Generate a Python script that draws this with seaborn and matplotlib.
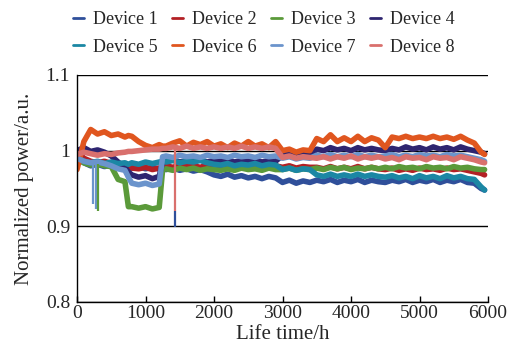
import matplotlib
matplotlib.use("Agg")
import matplotlib.pyplot as plt
from matplotlib.lines import Line2D
from matplotlib.ticker import FuncFormatter
import pandas as pd
import seaborn as sns

devices = ["Device 1", "Device 2", "Device 3", "Device 4",
           "Device 5", "Device 6", "Device 7", "Device 8"]
colors = ["#2f4f9a", "#b32025", "#5b9a3a", "#2e2570",
          "#1b87a4", "#e0561f", "#6b94cc", "#d9706d"]

hours = [0, 100, 200, 300, 400, 500, 600, 700,
         750, 800, 900, 1000, 1100, 1200, 1250,
         1300, 1400, 1500, 1600, 1700, 1800, 1900, 2000,
         2100, 2200, 2300, 2400, 2500, 2600, 2700, 2800, 2900,
         3000, 3100, 3200, 3300, 3400,
         3500, 3600, 3700, 3800, 3900, 4000, 4100, 4200, 4300, 4400,
         4500, 4600, 4700, 4800, 4900, 5000, 5100, 5200, 5300, 5400, 5500, 5600, 5700, 5800,
         5900, 5950]

device_1 = [0.990, 0.984, 0.980, 0.982, 0.979, 0.981, 0.978, 0.980,
            0.979, 0.977, 0.979, 0.976, 0.978, 0.976, 0.977,
            0.975, 0.977, 0.974, 0.976, 0.973, 0.975, 0.972, 0.968,
            0.966, 0.969, 0.965, 0.967, 0.964, 0.966, 0.963, 0.966, 0.964,
            0.958, 0.961, 0.957, 0.960, 0.958,
            0.961, 0.959, 0.962, 0.958, 0.961, 0.959, 0.962, 0.958, 0.961, 0.959,
            0.958, 0.961, 0.959, 0.962, 0.958, 0.961, 0.959, 0.962, 0.958, 0.961, 0.959, 0.962, 0.958, 0.957,
            0.950, 0.948]
device_2 = [1.000, 0.990, 0.986, 0.984, 0.986, 0.983, 0.982, 0.980,
            0.979, 0.977, 0.976, 0.978, 0.975, 0.977, 0.978,
            0.980, 0.978, 0.981, 0.979, 0.980, 0.978, 0.981, 0.979,
            0.980, 0.978, 0.981, 0.979, 0.980, 0.978, 0.981, 0.979, 0.980,
            0.978, 0.980, 0.977, 0.979, 0.978,
            0.978, 0.976, 0.979, 0.976, 0.978, 0.976, 0.979, 0.976, 0.978, 0.976,
            0.975, 0.977, 0.974, 0.976, 0.974, 0.977, 0.975, 0.976, 0.974, 0.977, 0.975, 0.976, 0.974, 0.972,
            0.970, 0.968]
device_3 = [0.990, 0.984, 0.981, 0.983, 0.980, 0.979, 0.962, 0.959,
            0.926, 0.926, 0.924, 0.926, 0.923, 0.925, 0.975,
            0.976, 0.974, 0.977, 0.975, 0.977, 0.974, 0.976, 0.975,
            0.974, 0.976, 0.974, 0.977, 0.975, 0.976, 0.974, 0.977, 0.975,
            0.975, 0.977, 0.974, 0.976, 0.975,
            0.977, 0.975, 0.978, 0.976, 0.978, 0.975, 0.977, 0.976, 0.978, 0.976,
            0.978, 0.976, 0.979, 0.977, 0.978, 0.976, 0.979, 0.977, 0.978, 0.976, 0.979, 0.977, 0.978, 0.976,
            0.975, 0.975]
device_4 = [1.000, 1.004, 0.999, 1.001, 0.998, 0.993, 0.985, 0.978,
            0.972, 0.968, 0.965, 0.967, 0.963, 0.966, 0.985,
            0.986, 0.988, 0.985, 0.987, 0.986, 0.988, 0.985, 0.987,
            0.986, 0.988, 0.985, 0.987, 0.986, 0.988, 0.985, 0.987, 0.986,
            0.994, 0.996, 0.993, 0.995, 0.994,
            1.002, 1.000, 1.004, 1.001, 1.003, 1.000, 1.004, 1.001, 1.003, 1.001,
            1.000, 1.003, 1.001, 1.005, 1.002, 1.004, 1.001, 1.005, 1.002, 1.004, 1.001, 1.005, 1.002, 1.000,
            0.998, 0.996]
device_5 = [0.992, 0.986, 0.984, 0.986, 0.983, 0.985, 0.983, 0.984,
            0.982, 0.984, 0.982, 0.985, 0.983, 0.985, 0.986,
            0.985, 0.987, 0.984, 0.986, 0.985, 0.987, 0.984, 0.982,
            0.981, 0.983, 0.980, 0.982, 0.981, 0.983, 0.980, 0.982, 0.981,
            0.975, 0.977, 0.974, 0.976, 0.975,
            0.968, 0.966, 0.969, 0.966, 0.968, 0.966, 0.969, 0.966, 0.968, 0.966,
            0.965, 0.967, 0.964, 0.966, 0.963, 0.967, 0.964, 0.966, 0.963, 0.967, 0.964, 0.966, 0.963, 0.962,
            0.952, 0.948]
device_6 = [0.975, 1.012, 1.028, 1.022, 1.025, 1.020, 1.022, 1.018,
            1.020, 1.019, 1.012, 1.007, 1.004, 1.008, 1.006,
            1.006, 1.010, 1.013, 1.006, 1.011, 1.008, 1.012, 1.006,
            1.009, 1.004, 1.010, 1.006, 1.012, 1.006, 1.009, 1.004, 1.012,
            1.000, 1.002, 0.998, 1.001, 1.000,
            1.016, 1.012, 1.021, 1.012, 1.017, 1.012, 1.019, 1.012, 1.017, 1.014,
            1.004, 1.018, 1.016, 1.019, 1.016, 1.018, 1.016, 1.019, 1.016, 1.018, 1.015, 1.019, 1.014, 1.010,
            0.998, 0.995]
device_7 = [0.990, 0.986, 0.984, 0.985, 0.983, 0.980, 0.976, 0.974,
            0.965, 0.957, 0.955, 0.957, 0.954, 0.956, 0.992,
            0.993, 0.991, 0.994, 0.992, 0.993, 0.991, 0.994, 0.992,
            0.993, 0.991, 0.994, 0.992, 0.993, 0.991, 0.994, 0.992, 0.993,
            0.990, 0.992, 0.989, 0.991, 0.990,
            0.994, 0.992, 0.995, 0.992, 0.994, 0.992, 0.995, 0.992, 0.994, 0.992,
            0.993, 0.995, 0.992, 0.994, 0.992, 0.995, 0.993, 0.994, 0.992, 0.995, 0.993, 0.994, 0.992, 0.990,
            0.988, 0.986]
device_8 = [0.995, 0.998, 0.996, 0.994, 0.996, 0.995, 0.997, 0.998,
            0.999, 0.999, 1.000, 1.001, 1.002, 1.002, 1.003,
            1.003, 1.005, 1.003, 1.006, 1.003, 1.005, 1.003, 1.005,
            1.003, 1.005, 1.003, 1.006, 1.003, 1.005, 1.003, 1.005, 1.003,
            0.991, 0.993, 0.990, 0.992, 0.991,
            0.990, 0.992, 0.989, 0.992, 0.990, 0.993, 0.989, 0.992, 0.990, 0.992,
            0.989, 0.991, 0.988, 0.992, 0.990, 0.991, 0.988, 0.992, 0.990, 0.991, 0.988, 0.992, 0.990, 0.988,
            0.985, 0.984]

# short drop-outs (spikes)
spike_device = ["Device 7", "Device 7", "Device 3", "Device 8", "Device 1"]
spike_hours = [230, 280, 300, 1430, 1430]
spike_top = [0.985, 0.985, 0.982, 1.003, 0.920]
spike_bottom = [0.930, 0.923, 0.920, 0.920, 0.899]

yticks = [0.8, 0.9, 1.0, 1.1]
xticks = [0, 1000, 2000, 3000, 4000, 5000, 6000]

series = [device_1, device_2, device_3, device_4,
          device_5, device_6, device_7, device_8]
frames = []
for name, vals in zip(devices, series):
    frames.append(pd.DataFrame({"hours": hours, "power": vals, "device": name}))
df = pd.concat(frames, ignore_index=True)

sns.set_style("white")
plt.rcParams["font.family"] = ["Liberation Serif", "DejaVu Serif"]

palette = dict(zip(devices, colors))

fig = plt.figure(figsize=(5.28, 3.55), dpi=100)
ax = fig.add_axes([77 / 528, 53 / 355, 411 / 528, 227 / 355])

sns.lineplot(data=df, x="hours", y="power", hue="device", palette=palette,
             linewidth=4, ax=ax, legend=False, estimator=None, sort=False)

ax.vlines(spike_hours, spike_bottom, spike_top,
          colors=[palette[d] for d in spike_device], linewidth=1.6)

ax.set_xlim(0, 6000)
ax.set_ylim(0.8, 1.1)
ax.set_xticks(xticks)
ax.set_yticks(yticks)
ax.yaxis.set_major_formatter(FuncFormatter(lambda v, p: f"{v:g}"))
ax.yaxis.grid(True, color="black", linewidth=1)
ax.xaxis.grid(False)
ax.set_axisbelow(True)

for s in ["top", "right"]:
    ax.spines[s].set_visible(False)
for s in ["left", "bottom"]:
    ax.spines[s].set_color("black")
    ax.spines[s].set_linewidth(1)

ax.tick_params(axis="x", direction="in", length=4, width=1, color="black",
               labelsize=14, pad=2, bottom=True)
ax.tick_params(axis="y", length=0, labelsize=14, pad=5)
ax.set_xlabel("Life time/h", fontsize=15, labelpad=2)
ax.set_ylabel("Normalized power/a.u.", fontsize=15, labelpad=8)

# legend filled row by row (matplotlib fills columns first)
order = [0, 4, 1, 5, 2, 6, 3, 7]
handles = [Line2D([0], [0], color=colors[i], lw=2) for i in order]
labels = [devices[i] for i in order]
fig.legend(handles, labels, loc="upper center", bbox_to_anchor=(0.5, 1.0),
           ncol=4, frameon=False, fontsize=13, handlelength=0.6,
           handletextpad=0.5, columnspacing=0.8, labelspacing=0.6,
           borderaxespad=0.2)

fig.savefig("out.png", dpi=100)
